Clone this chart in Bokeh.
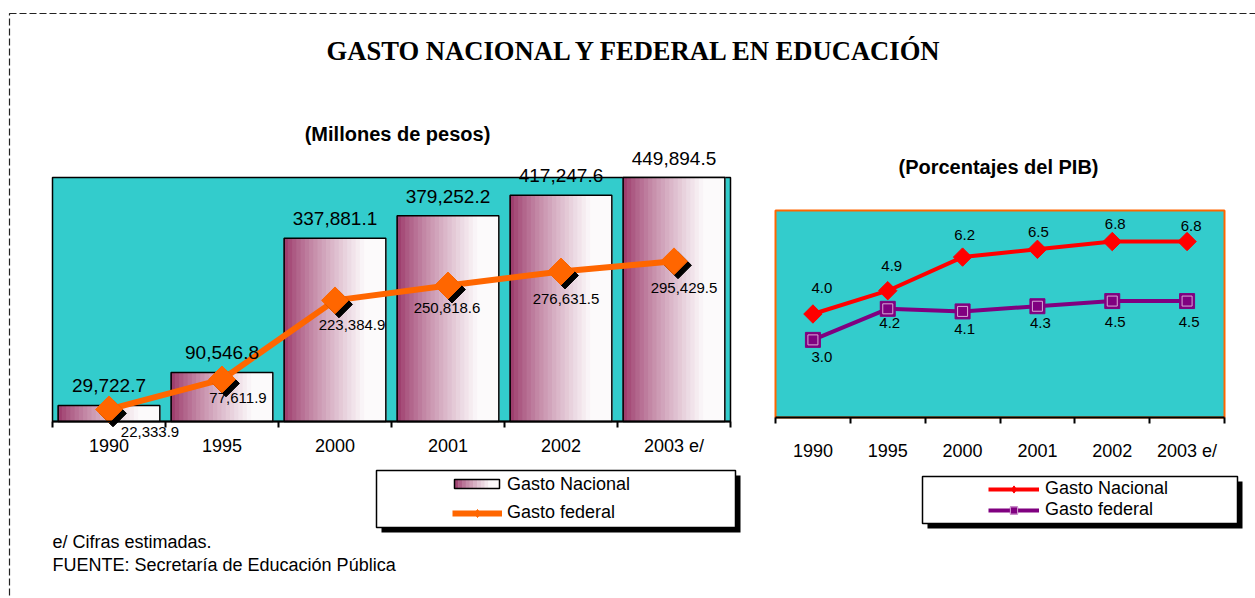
import math
from bokeh.plotting import figure
from bokeh.models import (ColumnDataSource, Range1d, FixedTicker, LabelSet, Label,
                          BoxAnnotation, Legend, LegendItem, LinearAxis)
from bokeh.transform import dodge
from bokeh.core.properties import value
from bokeh.embed import file_html
from bokeh.resources import INLINE

# ---------------- data ----------------
years = ["1990", "1995", "2000", "2001", "2002", "2003 e/"]
gasto_nacional_mdp = [29722.7, 90546.8, 337881.1, 379252.2, 417247.6, 449894.5]
gasto_federal_mdp = [22333.9, 77611.9, 223384.9, 250818.6, 276631.5, 295429.5]
gasto_nacional_pib = [4.0, 4.9, 6.2, 6.5, 6.8, 6.8]
gasto_federal_pib = [3.0, 4.2, 4.1, 4.3, 4.5, 4.5]

title_text = "GASTO NACIONAL Y FEDERAL EN EDUCACIÓN"
subtitle_left = "(Millones de pesos)"
subtitle_right = "(Porcentajes del PIB)"
note_1 = "e/ Cifras estimadas."
note_2 = "FUENTE: Secretaría de Educación Pública"

# label offsets (screen px) for individual value labels
fed_mdp_dx = [41, 16, 17, -1, 5, 10]
fed_mdp_dy = [-23, -19, -25, -22, -27, -27]
nac_pib_dx = [9, 4, 2, 1, 3, 4]
nac_pib_dy = [26, 25, 22, 17, 18, 16]
fed_pib_dx = [9, 2, 2, 3, 3, 2]
fed_pib_dy = [-17, -14, -18, -17, -21, -21]

# ---------------- style / layout ----------------
CYAN = "#33CCCC"
ORANGE = "#FF6600"
RED = "#FF0000"
PURPLE = "#800080"
SANS = "Liberation Sans"
SERIF = "Liberation Serif"

W, H = 1255, 598
LX0, LX1, LY_TOP, LY_BOT = 52, 730, 177, 421      # left plot area (px)
RX0, RX1, RY_TOP, RY_BOT = 775, 1224, 210, 417     # right plot area (px)
Y_MAX_L = 450000
Y_MAX_R = 8

n = len(years)
centers = list(range(n))
bounds = [c - 0.5 for c in centers] + [n - 0.5]


def grad(t):
    plum = (153, 51, 102)
    white = (252, 250, 251)
    s = min(1.0, t / 0.8) ** 0.8
    c = [int(round(a + (b - a) * s)) for a, b in zip(plum, white)]
    return "#%02x%02x%02x" % tuple(c)


def x_range_for(x0, x1):
    unit = (x1 - x0) / n
    return Range1d(-0.5 - x0 / unit, -0.5 + (W - x0) / unit), unit


def y_range_for(ytop, ybot, ymax):
    per_px = ymax / (ybot - ytop)
    return Range1d(-(H - ybot) * per_px, ybot * per_px), per_px


xr_l, unit_l = x_range_for(LX0, LX1)
yr_l, perpx_l = y_range_for(LY_TOP, LY_BOT, Y_MAX_L)
xr_r, unit_r = x_range_for(RX0, RX1)
yr_r, perpx_r = y_range_for(RY_TOP, RY_BOT, Y_MAX_R)

p = figure(width=W, height=H, x_range=xr_l, y_range=yr_l, toolbar_location=None,
           output_backend="svg", min_border=0, x_axis_location=None, y_axis_location=None)
p.extra_x_ranges = {"rx": xr_r}
p.extra_y_ranges = {"ry": yr_r}
p.outline_line_color = None
p.background_fill_color = "white"
p.xgrid.grid_line_color = None
p.ygrid.grid_line_color = None


def make_axis(standoff, **kw):
    ax = LinearAxis(ticker=FixedTicker(ticks=centers, minor_ticks=bounds),
                    fixed_location=0, bounds=(-0.5, n - 0.5), **kw)
    ax.major_label_overrides = {c: y for c, y in zip(centers, years)}
    ax.major_tick_line_color = None
    ax.major_tick_out = 0
    ax.major_tick_in = 0
    ax.minor_tick_line_color = "black"
    ax.minor_tick_line_width = 2
    ax.minor_tick_out = 6
    ax.minor_tick_in = 0
    ax.axis_line_color = "black"
    ax.axis_line_width = 2
    ax.major_label_text_font = SANS
    ax.major_label_text_font_size = "18px"
    ax.major_label_text_color = "black"
    ax.major_label_standoff = standoff
    p.add_layout(ax, "below")
    return ax


def sbox(left, right, top, bottom, **kw):
    """Box in screen px measured from the top-left corner of the page."""
    b = BoxAnnotation(left=left, right=right, top=H - top, bottom=H - bottom,
                      left_units="screen", right_units="screen",
                      top_units="screen", bottom_units="screen", **kw)
    p.add_layout(b)
    return b


def slabel(x, y, text, size, bold=False, font=SANS, align="left"):
    p.add_layout(Label(x=x, y=H - y, x_units="screen", y_units="screen", text=text,
                       text_font=font, text_font_style="bold" if bold else "normal",
                       text_font_size=size, text_color="black", text_align=align,
                       text_baseline="middle"))


# ---------------- page frame + title ----------------
sbox(9, W + 100, 13, H + 100, fill_color=None, fill_alpha=0, line_color="#222222",
     line_alpha=1, line_width=1.2, line_dash="7 3")
slabel(635, 50, title_text, "26.6px", bold=True, font=SERIF, align="center")

# ---------------- left chart ----------------
p.quad(left=-0.5, right=n - 0.5, bottom=0, top=Y_MAX_L, fill_color=CYAN,
       line_color="black", line_width=1.5)

N = 24
bar_w = 0.9
strip_w = bar_w / N
sx, stop, scol = [], [], []
for i, v in zip(centers, gasto_nacional_mdp):
    for k in range(N):
        sx.append(i - bar_w / 2 + (k + 0.5) * strip_w)
        stop.append(v)
        scol.append(grad((k + 0.5) / N))
p.vbar(x=sx, top=stop, width=strip_w * 1.25, bottom=0, fill_color=scol, line_color=None)
p.vbar(x=centers, top=gasto_nacional_mdp, width=bar_w, bottom=0, fill_color=None,
       line_color="black", line_width=1.5)
dummy = p.vbar(x=centers, top=gasto_nacional_mdp, width=bar_w, fill_color=None,
               line_color=None)

src_l = ColumnDataSource(dict(
    x=centers, nac=gasto_nacional_mdp, fed=gasto_federal_mdp,
    nac_txt=[f"{v:,.1f}" for v in gasto_nacional_mdp],
    fed_txt=[f"{v:,.1f}" for v in gasto_federal_mdp],
    fdx=fed_mdp_dx, fdy=fed_mdp_dy))

fed_line = p.line("x", "fed", source=src_l, color=ORANGE, line_width=6)
p.scatter(x=dodge("x", 4 / unit_l), y=dodge("fed", -4 * perpx_l), source=src_l,
          marker="square", angle=math.pi / 4, size=19, color="black")
p.scatter("x", "fed", source=src_l, marker="square", angle=math.pi / 4,
          size=19, color=ORANGE)
# legend-only marker (zero size in the plot, drawn at legend size in the legend)
fed_leg = p.scatter("x", "fed", source=src_l, marker="diamond", size=0, color=ORANGE)

make_axis(8)

p.add_layout(LabelSet(x="x", y="nac", text="nac_txt", source=src_l, text_align="center",
                      text_baseline="alphabetic", y_offset=13, text_font=value(SANS),
                      text_font_size="19px", text_color="black"))
p.add_layout(LabelSet(x="x", y="fed", text="fed_txt", source=src_l, text_align="center",
                      text_baseline="middle", x_offset="fdx", y_offset="fdy",
                      text_font=value(SANS), text_font_size="15px", text_color="black"))

slabel(397, 133, subtitle_left, "20px", bold=True, align="center")
slabel(52, 541, note_1, "18px")
slabel(52, 564, note_2, "18px")

# legend box, shadow and gradient swatch
sbox(381, 740, 475, 532, fill_color="black", fill_alpha=1, line_color=None)
sbox(376, 735, 470, 527, fill_color="white", fill_alpha=1, line_color="black",
     line_alpha=1, line_width=1.5)
NS = 12
sw_l, sw_r = 454, 499
for k in range(NS):
    a = sw_l + (sw_r - sw_l) * k / NS
    b = sw_l + (sw_r - sw_l) * (k + 1) / NS
    sbox(a, b + 0.5, 479, 488, fill_color=grad((k + 0.5) / NS), fill_alpha=1,
         line_color=None)
sbox(sw_l, sw_r, 479, 488, fill_color=None, fill_alpha=0, line_color="black",
     line_alpha=1, line_width=1.5)

leg_l = Legend(items=[LegendItem(label="Gasto Nacional", renderers=[dummy]),
                      LegendItem(label="Gasto federal", renderers=[fed_line, fed_leg])],
               location=(452, H - 523), glyph_width=50, glyph_height=20, label_height=20,
               spacing=7, label_standoff=5, padding=0, margin=0,
               border_line_color=None, background_fill_alpha=0,
               label_text_font=SANS, label_text_font_size="18px", label_text_color="black")
p.add_layout(leg_l)

# ---------------- right chart ----------------
RN = dict(x_range_name="rx", y_range_name="ry")
p.quad(left=-0.5, right=n - 0.5, bottom=0, top=Y_MAX_R, fill_color=CYAN,
       line_color=ORANGE, line_width=2, **RN)

src_r = ColumnDataSource(dict(
    x=centers, nac=gasto_nacional_pib, fed=gasto_federal_pib,
    nac_txt=[f"{v:.1f}" for v in gasto_nacional_pib],
    fed_txt=[f"{v:.1f}" for v in gasto_federal_pib],
    ndx=nac_pib_dx, ndy=nac_pib_dy, fdx=fed_pib_dx, fdy=fed_pib_dy))

r_nac_line = p.line("x", "nac", source=src_r, color=RED, line_width=4, **RN)
p.scatter("x", "nac", source=src_r, marker="square", angle=math.pi / 4,
          size=13, color=RED, **RN)
r_nac_leg = p.scatter("x", "nac", source=src_r, marker="diamond", size=0, color=RED, **RN)
r_fed_line = p.line("x", "fed", source=src_r, color=PURPLE, line_width=4, **RN)
r_fed_mark = p.scatter("x", "fed", source=src_r, marker="square", size=15,
                       fill_color=PURPLE, line_color=PURPLE, **RN)
r_fed_in = p.scatter("x", "fed", source=src_r, marker="square", size=10,
                     fill_color=None, line_color="#D7A8D7", line_width=1, **RN)

make_axis(17, **RN)

p.add_layout(LabelSet(x="x", y="nac", text="nac_txt", source=src_r, text_align="center",
                      text_baseline="middle", x_offset="ndx", y_offset="ndy",
                      text_font=value(SANS), text_font_size="15px", text_color="black", **RN))
p.add_layout(LabelSet(x="x", y="fed", text="fed_txt", source=src_r, text_align="center",
                      text_baseline="middle", x_offset="fdx", y_offset="fdy",
                      text_font=value(SANS), text_font_size="15px", text_color="black", **RN))

slabel(998, 166, subtitle_right, "20px", bold=True, align="center")

sbox(927, 1242, 481, 528, fill_color="black", fill_alpha=1, line_color=None)
sbox(922, 1237, 476, 523, fill_color="white", fill_alpha=1, line_color="black",
     line_alpha=1, line_width=1.5)

leg_r = Legend(items=[LegendItem(label="Gasto Nacional", renderers=[r_nac_line, r_nac_leg]),
                      LegendItem(label="Gasto federal",
                                 renderers=[r_fed_line, r_fed_mark, r_fed_in])],
               location=(988, H - 520), glyph_width=51, glyph_height=18, label_height=18,
               spacing=0, label_standoff=6, padding=0, margin=0,
               border_line_color=None, background_fill_alpha=0,
               label_text_font=SANS, label_text_font_size="18px", label_text_color="black")
p.add_layout(leg_r)

open("out.html", "w").write(file_html(p, INLINE, title="Gasto en educación"))
